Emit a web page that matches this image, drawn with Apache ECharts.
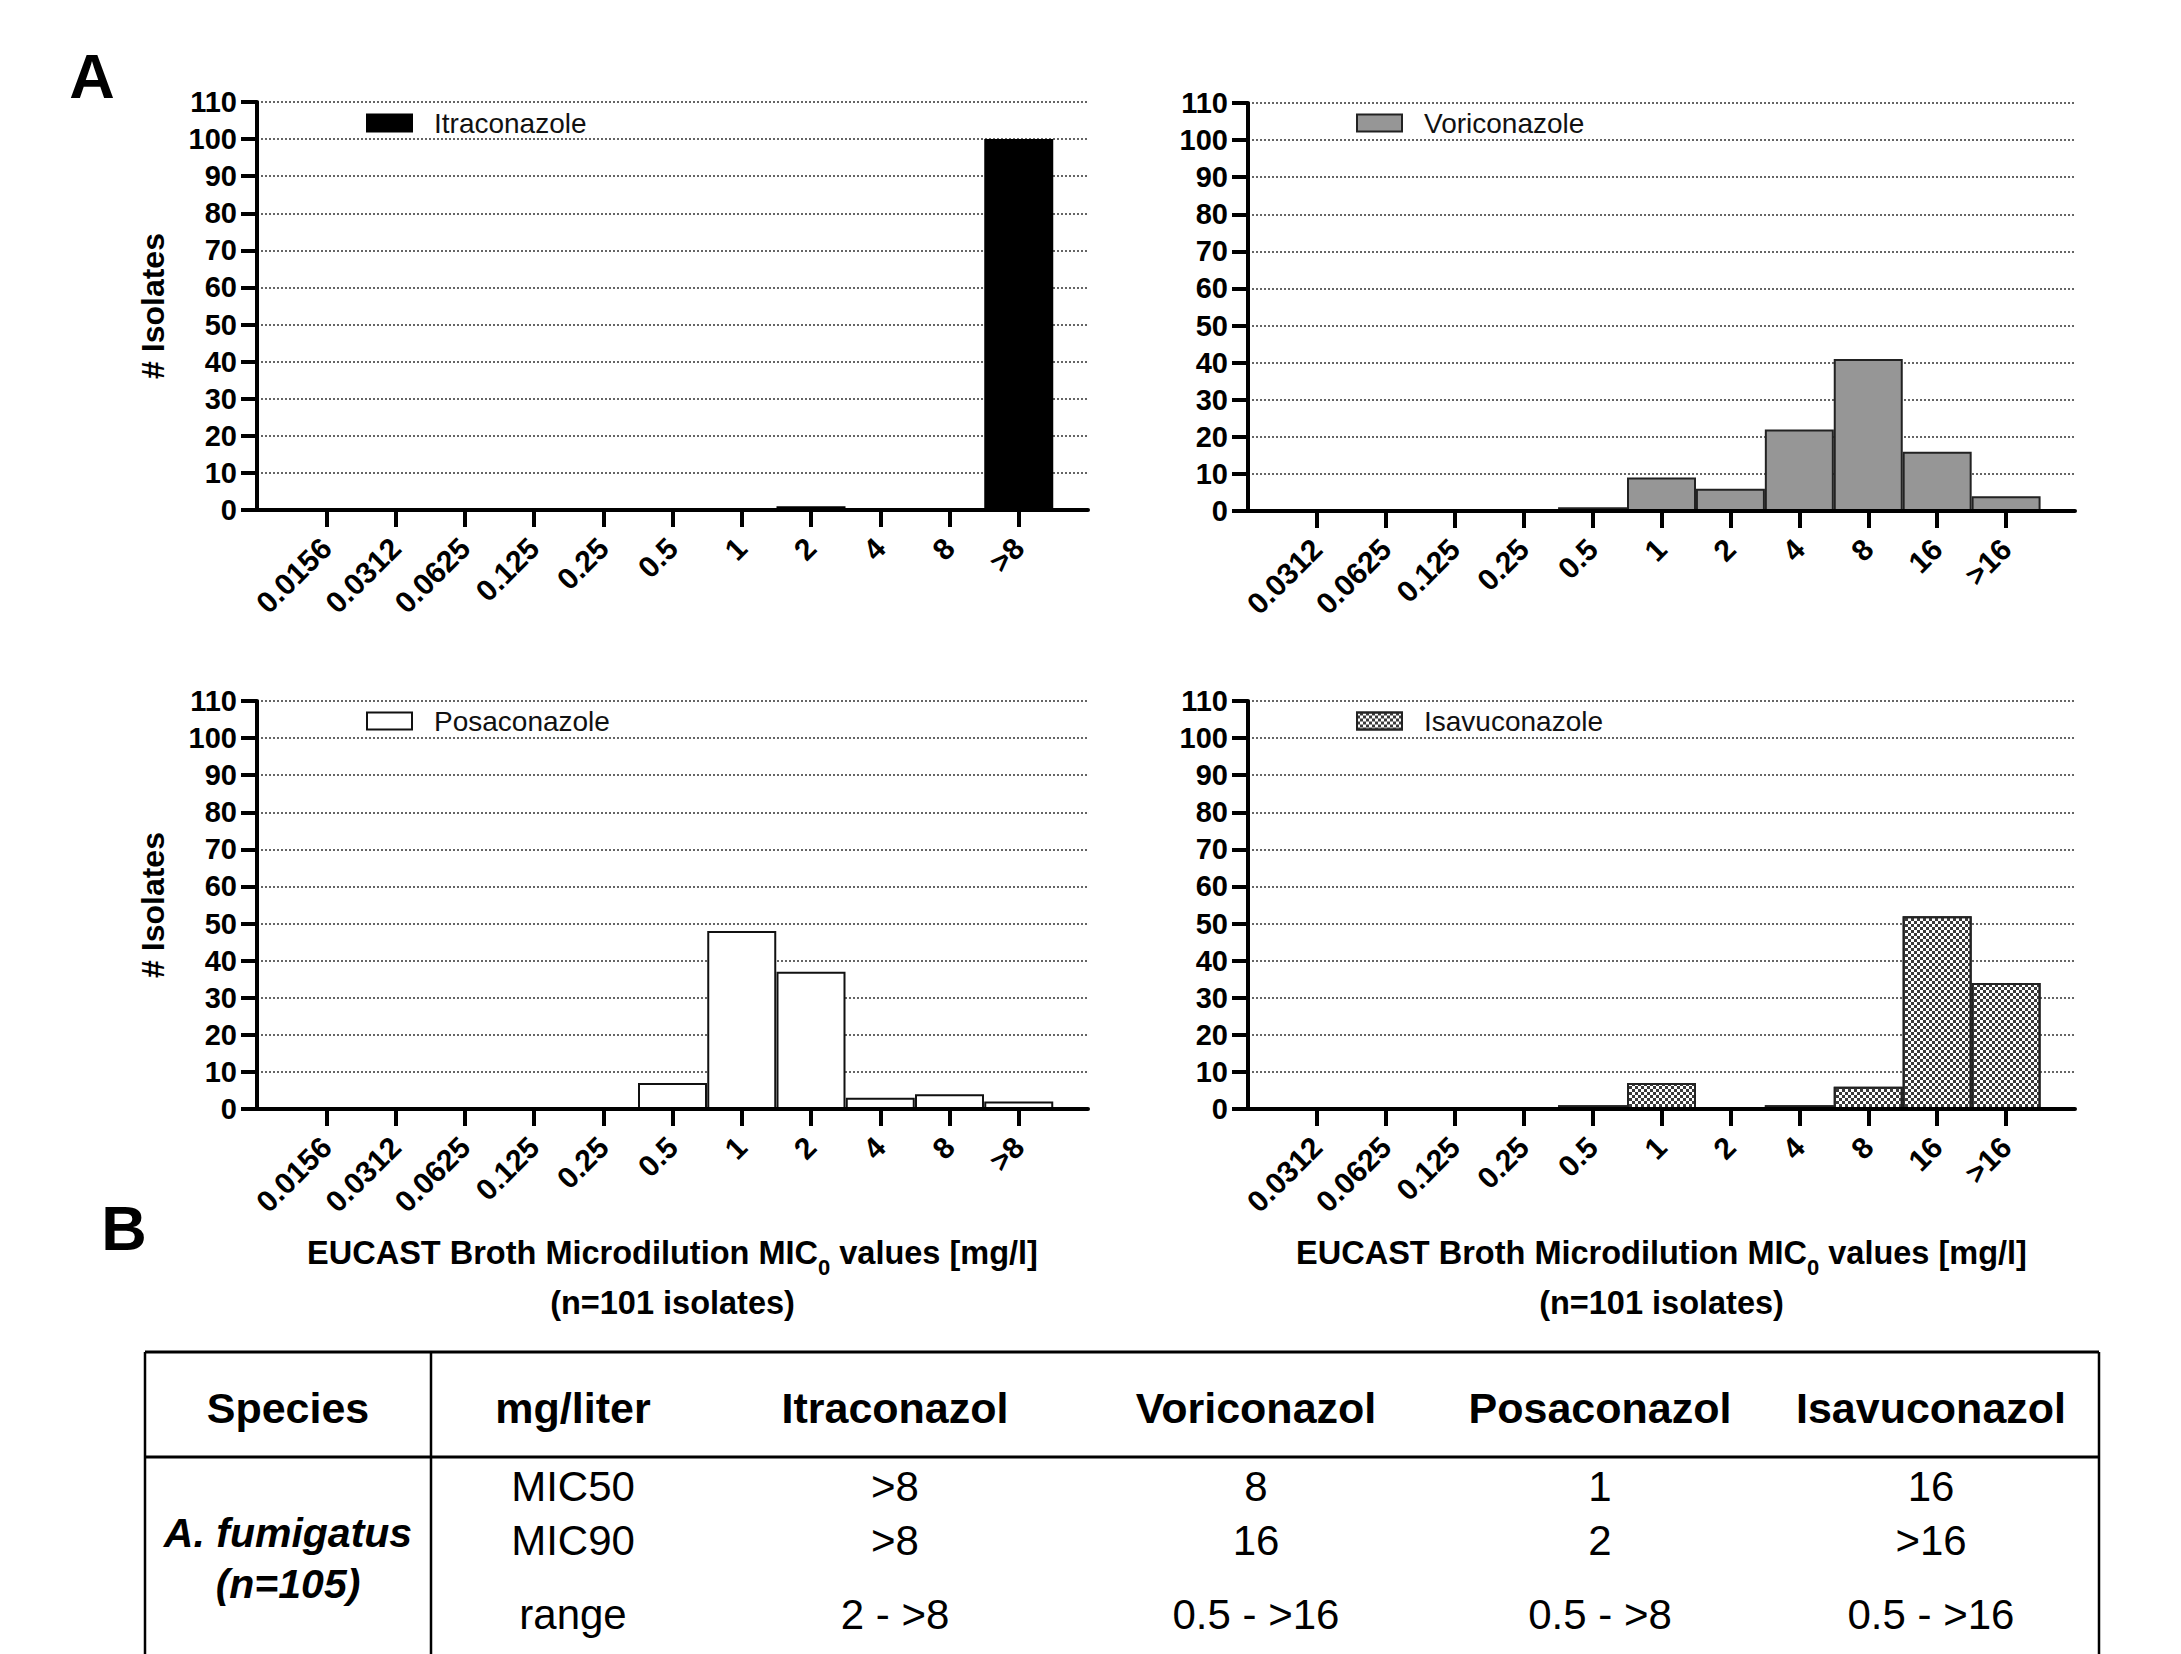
<!DOCTYPE html>
<html>
<head>
<meta charset="utf-8">
<title>MIC distribution</title>
<script src="https://cdn.jsdelivr.net/npm/echarts@6/dist/echarts.min.js"></script>
<style>
  html, body { margin: 0; padding: 0; background: #fff; }
  #chart { width: 2181px; height: 1654px; }
</style>
</head>
<body>
<div id="chart"></div>
<script>
// MIC categories (mg/l)
var micItraPosa = ['0.0156', '0.0312', '0.0625', '0.125', '0.25', '0.5', '1', '2', '4', '8', '>8'];
var micVoriIsa = ['0.0312', '0.0625', '0.125', '0.25', '0.5', '1', '2', '4', '8', '16', '>16'];

// number of isolates per MIC
var itraconazole = [0, 0, 0, 0, 0, 0, 0, 1, 0, 0, 100];
var voriconazole = [0, 0, 0, 0, 1, 9, 6, 22, 41, 16, 4];
var posaconazole = [0, 0, 0, 0, 0, 7, 48, 37, 3, 4, 2];
var isavuconazole = [0, 0, 0, 0, 1, 7, 0, 1, 6, 52, 34];

// table B
var tableHeader = ['Species', 'mg/liter', 'Itraconazol', 'Voriconazol', 'Posaconazol', 'Isavuconazol'];
var speciesName = 'A. fumigatus';
var speciesCount = '(n=105)';
var measures = ['MIC50', 'MIC90', 'range'];
var mic50Row = ['>8', '8', '1', '16'];
var mic90Row = ['>8', '16', '2', '>16'];
var rangeRow = ['2 - >8', '0.5 - >16', '0.5 - >8', '0.5 - >16'];

var FONT = 'Liberation Sans, Arial, sans-serif';

var chart = echarts.init(document.getElementById('chart'), null, { renderer: 'svg' });

var grids = [
	{ left: 257, top: 102, width: 831, height: 408 },
	{ left: 1248, top: 103, width: 827, height: 408 },
	{ left: 257, top: 701, width: 831, height: 408 },
	{ left: 1248, top: 701, width: 827, height: 408 }
];

var panels = [
	{ name: 'Itraconazole', cats: micItraPosa, values: itraconazole,
	  style: { color: '#000', borderColor: '#000', borderWidth: 2 } },
	{ name: 'Voriconazole', cats: micVoriIsa, values: voriconazole,
	  style: { color: '#969696', borderColor: '#222', borderWidth: 2 } },
	{ name: 'Posaconazole', cats: micItraPosa, values: posaconazole,
	  style: { color: '#fff', borderColor: '#111', borderWidth: 2 } },
	{ name: 'Isavuconazole', cats: micVoriIsa, values: isavuconazole,
	  style: {
		color: '#fff', borderColor: '#222', borderWidth: 2,
		decal: {
			symbol: 'rect', symbolSize: 1, color: '#3a3a3a',
			dashArrayX: [[3, 3], [0, 3, 3, 0]], dashArrayY: [3, 0], rotation: 0
		}
	  } }
];

var legendPos = [[366, 109], [1356, 109], [366, 707], [1356, 707]];

var xTitle = '{b|EUCAST Broth Microdilution MIC}{s|0}{b| values [mg/l]}\n{b|(n=101 isolates)}';

var xAxes = [], yAxes = [], series = [], legends = [];

for (var i = 0; i < panels.length; i++) {
	var p = panels[i];
	var idx = p.cats.map(function(c, j) { return j; });
	(function(cats) {
		xAxes.push({
			type: 'value',
			gridIndex: i,
			min: -1,
			max: 11,
			interval: 1,
			z: 10,
			axisLine: { show: true, onZero: false, lineStyle: { color: '#000', width: 4 } },
			axisTick: { show: true, customValues: idx, length: 17, lineStyle: { color: '#000', width: 4 } },
			axisLabel: {
				customValues: idx,
				rotate: 45,
				margin: 33,
				fontSize: 30,
				fontWeight: 'bold',
				fontFamily: FONT,
				color: '#000',
				formatter: function(v) { return cats[v] == null ? '' : cats[v]; }
			},
			splitLine: { show: false },
			name: i >= 2 ? xTitle : '',
			nameLocation: 'middle',
			nameGap: 119,
			nameTextStyle: {
				rich: {
					b: { fontSize: 32.5, fontWeight: 'bold', fontFamily: FONT, color: '#000', lineHeight: 50 },
					s: { fontSize: 22, fontWeight: 'bold', fontFamily: FONT, color: '#000', lineHeight: 30, verticalAlign: 'bottom' }
				}
			}
		});
	})(p.cats);

	yAxes.push({
		type: 'value',
		gridIndex: i,
		min: 0,
		max: 110,
		interval: 10,
		axisLine: { show: true, onZero: false, lineStyle: { color: '#000', width: 4 } },
		axisTick: { show: true, length: 16, lineStyle: { color: '#000', width: 4 } },
		axisLabel: { fontSize: 29, fontWeight: 'bold', fontFamily: FONT, color: '#000', margin: 20 },
		splitLine: { show: true, lineStyle: { type: [2, 2], color: '#333', width: 1.5 } },
		name: i % 2 == 0 ? '# Isolates' : '',
		nameLocation: 'middle',
		nameGap: 88,
		nameTextStyle: { fontSize: 32, fontWeight: 'bold', fontFamily: FONT, color: '#000' }
	});

	series.push({
		type: 'bar',
		name: p.name,
		xAxisIndex: i,
		yAxisIndex: i,
		barWidth: 69,
		itemStyle: p.style,
		data: p.values.map(function(v, j) { return [j, v]; })
	});

	legends.push({
		data: [p.name],
		left: legendPos[i][0],
		top: legendPos[i][1],
		padding: 0,
		icon: 'rect',
		itemWidth: 45,
		itemHeight: 17,
		selectedMode: false,
		textStyle: { fontSize: 28, fontFamily: FONT, color: '#111', padding: [0, 0, 0, 17] }
	});
}

// table B, drawn with graphic elements
var colX = [288, 573, 895, 1256, 1600, 1931];
var tbl = { left: 145, right: 2099, top: 1352, head: 1457, bottom: 1654, divider: 431 };
var graphics = [];

function line(x1, y1, x2, y2, w) {
	return { type: 'line', shape: { x1: x1, y1: y1, x2: x2, y2: y2 }, style: { stroke: '#000', lineWidth: w } };
}
function txt(s, x, y, font) {
	return { type: 'text', x: x, y: y, style: { text: s, font: font, fill: '#000', align: 'center', verticalAlign: 'middle' } };
}

graphics.push({ type: 'text', x: 92, y: 76, style: { text: 'A', font: 'bold 63px ' + FONT, fill: '#000', align: 'center', verticalAlign: 'middle' } });
graphics.push({ type: 'text', x: 124, y: 1228, style: { text: 'B', font: 'bold 63px ' + FONT, fill: '#000', align: 'center', verticalAlign: 'middle' } });

graphics.push(line(tbl.left, tbl.top, tbl.right, tbl.top, 3));
graphics.push(line(tbl.left, tbl.head, tbl.right, tbl.head, 3));
graphics.push(line(tbl.left, tbl.top, tbl.left, tbl.bottom, 2.5));
graphics.push(line(tbl.right, tbl.top, tbl.right, tbl.bottom, 2.5));
graphics.push(line(tbl.divider, tbl.top, tbl.divider, tbl.bottom, 2.5));

for (var c = 0; c < tableHeader.length; c++) {
	graphics.push(txt(tableHeader[c], colX[c], 1408, 'bold 43px ' + FONT));
}
graphics.push(txt(speciesName, colX[0], 1533, 'italic bold 41px ' + FONT));
graphics.push(txt(speciesCount, colX[0], 1584, 'italic bold 41px ' + FONT));

var rowY = [1486, 1540, 1614];
var rows = [mic50Row, mic90Row, rangeRow];
for (var r = 0; r < rows.length; r++) {
	graphics.push(txt(measures[r], colX[1], rowY[r], '42px ' + FONT));
	for (var k = 0; k < rows[r].length; k++) {
		graphics.push(txt(rows[r][k], colX[k + 2], rowY[r], '42px ' + FONT));
	}
}

chart.setOption({
	animation: false,
	backgroundColor: '#fff',
	textStyle: { fontFamily: FONT },
	grid: grids.map(function(g) {
		return { left: g.left, top: g.top, width: g.width, height: g.height, outerBoundsMode: 'none' };
	}),
	xAxis: xAxes,
	yAxis: yAxes,
	legend: legends,
	series: series,
	graphic: graphics
});
</script>
</body>
</html>
